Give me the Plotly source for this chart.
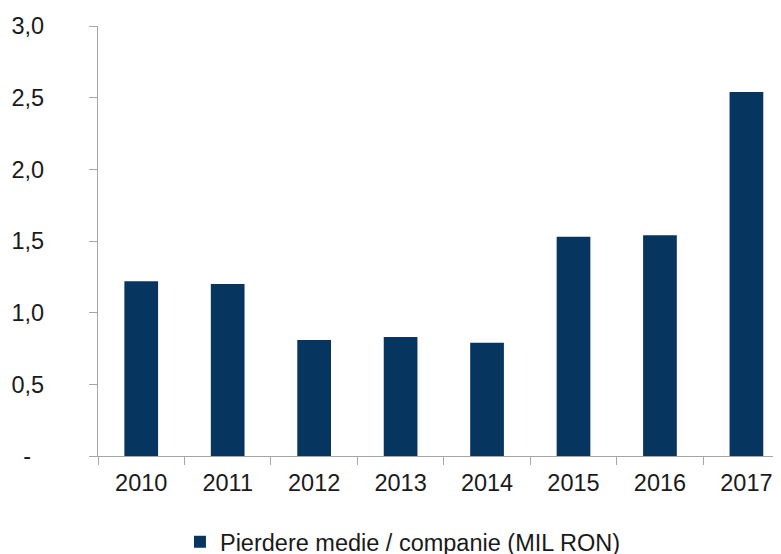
import plotly.graph_objects as go

years = ["2010", "2011", "2012", "2013", "2014", "2015", "2016", "2017"]
values = [1.22, 1.20, 0.81, 0.83, 0.79, 1.53, 1.54, 2.54]
series_name = "Pierdere medie / companie (MIL RON)"
ytick_vals = [0, 0.5, 1.0, 1.5, 2.0, 2.5, 3.0]
ytick_text = ["-\u00a0\u00a0", "0,5", "1,0", "1,5", "2,0", "2,5", "3,0"]

font_family = "Liberation Sans, Arial, sans-serif"
axis_color = "#A6A6A6"
fs = 23.5

fig = go.Figure(
    go.Bar(
        x=years,
        y=values,
        name=series_name,
        marker=dict(color="#06365F", line=dict(width=0)),
        width=0.39,
        showlegend=True,
    )
)

# page body has an 8px margin: figure is 773x546 placed at (8, 8)
fig.update_layout(
    width=773,
    height=546,
    margin=dict(l=90, r=0, t=18, b=98),
    paper_bgcolor="white",
    plot_bgcolor="white",
    font=dict(family=font_family, size=fs, color="#1a1a1a"),
    showlegend=True,
    legend=dict(
        orientation="h",
        x=0.120,
        xanchor="left",
        yref="container",
        y=0.022,
        yanchor="middle",
        font=dict(size=fs),
        itemwidth=30,
    ),
)

fig.update_xaxes(
    type="category",
    range=[-0.5, 7.4],
    showline=True,
    linecolor=axis_color,
    linewidth=1.3,
    ticks="outside",
    ticklen=8,
    tickcolor=axis_color,
    tickson="boundaries",
    showgrid=False,
    zeroline=False,
    tickfont=dict(size=fs),
    ticklabelstandoff=6,
)

fig.update_yaxes(
    range=[0, 3.0],
    tickvals=ytick_vals,
    ticktext=ytick_text,
    showline=True,
    linecolor=axis_color,
    linewidth=1.3,
    ticks="outside",
    ticklen=8,
    tickcolor=axis_color,
    showgrid=False,
    zeroline=False,
    tickfont=dict(size=fs),
    ticklabelstandoff=40,
)

fig.write_html("out.html")
